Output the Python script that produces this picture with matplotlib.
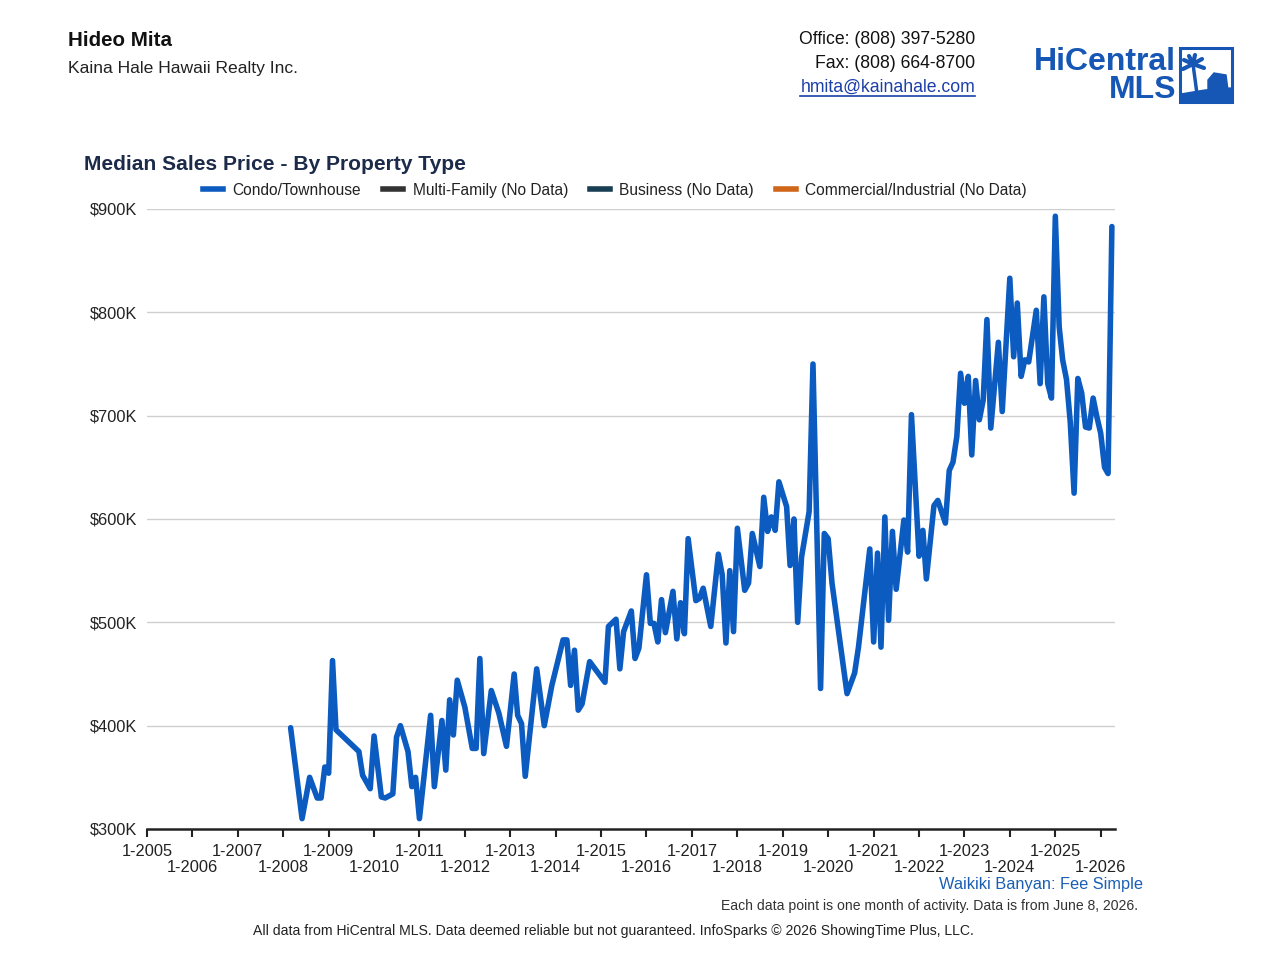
import matplotlib
matplotlib.use("Agg")
import matplotlib.pyplot as plt
from matplotlib.lines import Line2D
from matplotlib.patches import Rectangle, Polygon
import pandas as pd

plt.rcParams['font.family'] = ['Liberation Sans', 'DejaVu Sans']

# ---- data (median sales price, $K) ----
months = [
    "2008-03", "2008-06", "2008-08", "2008-10", "2008-11", "2008-12",
    "2009-01", "2009-02", "2009-03", "2009-09", "2009-10", "2009-12",
    "2010-01", "2010-03", "2010-04", "2010-06", "2010-07", "2010-08",
    "2010-10", "2010-11", "2010-12", "2011-01", "2011-04", "2011-05",
    "2011-07", "2011-08", "2011-09", "2011-10", "2011-11", "2012-01",
    "2012-03", "2012-04", "2012-05", "2012-06", "2012-08", "2012-10",
    "2012-12", "2013-02", "2013-03", "2013-04", "2013-05", "2013-08",
    "2013-10", "2013-12", "2014-03", "2014-04", "2014-05", "2014-06",
    "2014-07", "2014-08", "2014-10", "2015-02", "2015-03", "2015-05",
    "2015-06", "2015-07", "2015-09", "2015-10", "2015-11", "2016-01",
    "2016-02", "2016-03", "2016-04", "2016-05", "2016-06", "2016-08",
    "2016-09", "2016-10", "2016-11", "2016-12", "2017-02", "2017-03",
    "2017-04", "2017-06", "2017-08", "2017-09", "2017-10", "2017-11",
    "2017-12", "2018-01", "2018-03", "2018-04", "2018-05", "2018-07",
    "2018-08", "2018-09", "2018-10", "2018-11", "2018-12", "2019-02",
    "2019-03", "2019-04", "2019-05", "2019-06", "2019-08", "2019-09",
    "2019-11", "2019-12", "2020-01", "2020-02", "2020-06", "2020-08",
    "2020-09", "2020-12", "2021-01", "2021-02", "2021-03", "2021-04",
    "2021-05", "2021-06", "2021-07", "2021-09", "2021-10", "2021-11",
    "2022-01", "2022-02", "2022-03", "2022-05", "2022-06", "2022-08",
    "2022-09", "2022-10", "2022-11", "2022-12", "2023-01", "2023-02",
    "2023-03", "2023-04", "2023-05", "2023-06", "2023-07", "2023-08",
    "2023-10", "2023-11", "2024-01", "2024-02", "2024-03", "2024-04",
    "2024-05", "2024-06", "2024-08", "2024-09", "2024-10", "2024-11",
    "2024-12", "2025-01", "2025-02", "2025-03", "2025-04", "2025-05",
    "2025-06", "2025-07", "2025-08", "2025-09", "2025-10", "2025-11",
    "2025-12", "2026-01", "2026-02", "2026-03", "2026-04",
]
condo_price_k = [
    398, 310, 350, 330, 330, 360,
    354, 463, 396, 375, 352, 339,
    390, 331, 330, 334, 389, 400,
    375, 341, 350, 310, 410, 341,
    405, 357, 425, 391, 444, 418,
    378, 378, 465, 373, 434, 412,
    380, 450, 410, 402, 351, 455,
    400, 439, 483, 483, 439, 473,
    415, 421, 462, 442, 496, 503,
    455, 491, 511, 465, 475, 546,
    499, 499, 481, 522, 490, 530,
    484, 519, 489, 581, 521, 523,
    533, 496, 566, 546, 480, 550,
    491, 591, 531, 538, 586, 554,
    621, 588, 602, 589, 636, 612,
    555, 600, 500, 563, 607, 750,
    436, 586, 581, 538, 431, 451,
    476, 571, 481, 567, 476, 602,
    502, 588, 532, 599, 568, 701,
    564, 589, 542, 613, 618, 596,
    647, 655, 680, 741, 712, 738,
    662, 734, 696, 715, 793, 688,
    771, 704, 833, 757, 809, 738,
    754, 752, 802, 731, 815, 731,
    717, 893, 786, 754, 735, 694,
    625, 736, 722, 689, 688, 717,
    699, 683, 650, 644, 883,
]
legend_labels = ["Condo/Townhouse", "Multi-Family (No Data)",
                 "Business (No Data)", "Commercial/Industrial (No Data)"]
legend_colors = ["#0b5bc0", "#333333", "#173e52", "#d0661a"]
y_ticks = [300, 400, 500, 600, 700, 800, 900]
tick_years_upper = list(range(2005, 2027, 2))
tick_years_lower = list(range(2006, 2027, 2))

# ---- figure ----
W, H = 1280, 968
fig = plt.figure(figsize=(W / 100, H / 100), dpi=100)

def fx(px):
    return px / W

def fy(py):
    return 1 - py / H

ax = fig.add_axes([fx(147), fy(829), fx(1115) - fx(147), fy(209) - fy(829)])

dates = pd.to_datetime(months, format="%Y-%m")
ax.plot(dates, condo_price_k, color=legend_colors[0], lw=4.0,
        solid_joinstyle='round', solid_capstyle='round', zorder=3)

ax.set_ylim(300, 900)
ax.set_xlim(pd.Timestamp("2005-01-01"), pd.Timestamp("2026-04-26"))

for v in y_ticks[1:]:
    ax.axhline(v, color="#cfcfcf", lw=1.0, zorder=1)

ax.set_yticks(y_ticks)
ax.set_yticklabels([f"${v}K" for v in y_ticks], fontsize=11.8, color="#222222")
ax.tick_params(axis='y', length=0, pad=7)

# alternate years on two rows: upper row (major ticks), lower row (minor ticks)
ax.set_xticks([pd.Timestamp(f"{y}-01-01") for y in tick_years_upper])
ax.set_xticklabels([f"1-{y}" for y in tick_years_upper], fontsize=11.8, color="#222222")
ax.set_xticks([pd.Timestamp(f"{y}-01-01") for y in tick_years_lower], minor=True)
ax.set_xticklabels([f"1-{y}" for y in tick_years_lower], minor=True,
                   fontsize=11.8, color="#222222")
ax.tick_params(axis='x', which='major', length=6, width=1.5, color="#222222", pad=5)
ax.tick_params(axis='x', which='minor', length=6, width=1.5, color="#222222", pad=16)

for s in ["top", "right", "left"]:
    ax.spines[s].set_visible(False)
ax.spines["bottom"].set_color("#222222")
ax.spines["bottom"].set_linewidth(1.8)

# ---- title & legend ----
fig.text(fx(84), fy(165), "Median Sales Price - By Property Type", fontsize=15.1,
         fontweight='bold', color="#1c2b4a", va='center', ha='left')
handles = [Line2D([0], [0], color=c, lw=4) for c in legend_colors]
fig.legend(handles, legend_labels, loc='center', bbox_to_anchor=(fx(615), fy(190)),
           ncol=4, frameon=False, fontsize=11.2, handlelength=1.3, handletextpad=0.6,
           columnspacing=1.4, labelcolor="#222222")

# ---- header ----
fig.text(fx(68), fy(41), "Hideo Mita", fontsize=14.8, fontweight='bold',
         color="#111111", va='center', ha='left')
fig.text(fx(68), fy(69), "Kaina Hale Hawaii Realty Inc.", fontsize=12.6,
         color="#222222", va='center', ha='left')
fig.text(fx(975), fy(40), "Office: (808) 397-5280", fontsize=12.7,
         color="#111111", va='center', ha='right')
fig.text(fx(975), fy(63), "Fax: (808) 664-8700", fontsize=12.7,
         color="#111111", va='center', ha='right')
fig.text(fx(975), fy(87), "hmita@kainahale.com", fontsize=12.7,
         color="#1a3fa8", va='center', ha='right')
fig.add_artist(Line2D([fx(800), fx(975)], [fy(96), fy(96)], color="#1a3fa8", lw=1.2))

# ---- logo ----
logo_blue = "#1656b4"
fig.text(fx(1176), fy(62), "HiCentral", fontsize=23, fontweight='bold',
         color=logo_blue, va='center', ha='right')
fig.text(fx(1176), fy(90), "MLS", fontsize=23, fontweight='bold',
         color=logo_blue, va='center', ha='right')
fig.add_artist(Rectangle((fx(1180), fy(102)), fx(52), fy(48) - fy(102),
                         fill=False, edgecolor=logo_blue, lw=2.2))
fig.add_artist(Polygon([(fx(1181), fy(101)), (fx(1181), fy(94)), (fx(1205), fy(90)),
                        (fx(1231), fy(88)), (fx(1231), fy(101))],
                       closed=True, color=logo_blue))
fig.add_artist(Polygon([(fx(1208), fy(92)), (fx(1208), fy(80)), (fx(1214), fy(73)),
                        (fx(1226), fy(75)), (fx(1228), fy(90))],
                       closed=True, color=logo_blue))
fig.add_artist(Line2D([fx(1197), fx(1193)], [fy(94), fy(64)], color=logo_blue, lw=2.5))
for dx, dy in [(-10, 5), (-9, -4), (11, 4), (9, -5), (2, -9), (-4, -8)]:
    fig.add_artist(Line2D([fx(1193), fx(1193 + dx)], [fy(64), fy(64 + dy)],
                          color=logo_blue, lw=3.0, solid_capstyle='round'))

# ---- footer ----
fig.text(fx(1143), fy(885), "Waikiki Banyan: Fee Simple", fontsize=11.8,
         color="#1a5fb4", va='center', ha='right')
fig.text(fx(1138), fy(906), "Each data point is one month of activity. Data is from June 8, 2026.",
         fontsize=10.1, color="#333333", va='center', ha='right')
fig.text(fx(613), fy(931),
         "All data from HiCentral MLS. Data deemed reliable but not guaranteed. InfoSparks © 2026 ShowingTime Plus, LLC.",
         fontsize=10.1, color="#222222", va='center', ha='center')

fig.savefig("out.png", dpi=100)
